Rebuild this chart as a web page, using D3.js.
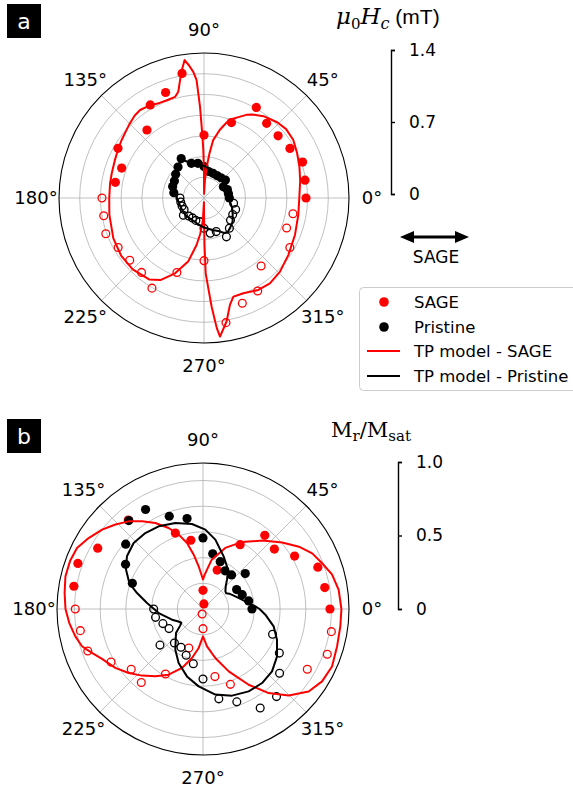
<!DOCTYPE html>
<html><head><meta charset="utf-8">
<script src="https://cdn.jsdelivr.net/npm/d3@7"></script>
<style>body{margin:0;background:#fff}svg{display:block}</style>
</head><body>
<script>
// ---------------- DATA ----------------
const angleTicks = [0,45,90,135,180,225,270,315];
const angleTickLabels = ["0°","45°","90°","135°","180°","225°","270°","315°"];

// Panel a : coercive field (mT)
const ringsA = [0.2,0.4,0.6,0.8,1.0,1.2];
const rmaxA = 1.4;
const thetaA_sageFill = [0,10,20,30,40,50,60,70,90,100,110,120,130,150,160,170];
const hcA_sageFill    = [0.985,0.99,1.013,0.958,0.934,0.941,1.01,0.775,0.608,1.221,1.084,1.038,0.857,0.959,0.846,0.869];
const thetaA_sageOpen = [180,190,200,210,220,230,240,250,270,280,290,300,310,330,340,350];
const hcA_sageOpen    = [0.985,0.983,1.009,0.957,0.936,0.938,1.005,0.766,0.605,1.222,1.082,1.037,0.858,0.957,0.849,0.872];
const thetaA_prisFill = [0,10,20,30,40,50,60,70,80,90,100,110,120,130,140,150,160,170];
const hcA_prisFill    = [0.245,0.24,0.24,0.216,0.27,0.255,0.25,0.254,0.26,0.303,0.34,0.356,0.44,0.39,0.357,0.33,0.322,0.296];
const thetaA_prisOpen = [180,190,200,210,220,230,240,250,260,270,280,290,300,310,320,330,340,350];
const hcA_prisOpen    = [0.232,0.228,0.225,0.222,0.26,0.228,0.222,0.23,0.232,0.293,0.345,0.345,0.433,0.381,0.334,0.32,0.325,0.29];
const thetaA_modelSage = [0,10,18,26,33,40,46,54,60,63,66,72,75,77,81,83,85,87,89,
  90,90.8,91.5,92.5,93.6,94.8,96.5,98,99.9,101.5,103.6,106,110,115,120,126,130,135,140,145,150,157,165,171,180,
  190,204,215,225,236,242,249,256,261,264,267,269.3,
  270.2,270.6,271.3,274,275.6,276.6,280.4,283.7,286.6,292.4,300.6,307.7,315.9,325.9,337.9,349.8,360];
const hcA_modelSage = [0.92,0.943,0.969,0.999,1.028,1.035,1.017,0.977,0.93,0.901,0.86,0.794,0.72,0.674,0.566,0.434,0.303,0.17,0.04,
  0.24,0.46,0.61,0.88,1.14,1.22,1.29,1.345,1.25,1.16,1.056,1.015,1.01,1.013,1.035,1.05,1.04,1.015,0.99,0.972,0.955,0.935,0.922,0.918,0.915,
  0.928,0.958,0.975,0.974,0.948,0.898,0.779,0.633,0.459,0.35,0.22,0.04,
  0.2,0.45,0.73,1.05,1.26,1.347,1.21,1.06,0.994,0.995,1.031,1.041,1.022,0.983,0.948,0.925,0.92];
const thetaA_modelPris = [0,15,30,40,50,60,70,80,90,100,110,118,122,128,135,145,155,165,175,180,195,210,225,240,255,270,285,295,300,305,312,320,330,340,350,360];
const hcA_modelPris = [0.245,0.24,0.245,0.26,0.255,0.255,0.265,0.285,0.31,0.335,0.36,0.41,0.43,0.40,0.37,0.34,0.315,0.29,0.265,0.26,0.245,0.24,0.245,0.24,0.255,0.285,0.32,0.355,0.39,0.40,0.38,0.36,0.32,0.29,0.26,0.245];
const barTicksA = [0,0.7,1.4];
const barLabelsA = ["0","0.7","1.4"];

// Panel b : remanence ratio Mr/Msat
const ringsB = [0.2,0.4,0.6,0.8,1.0];
const rmaxB = 1.136;
const thetaB_sageFill = [0,10,20,30,40,50,60,70,80,90,100,110,130,150,160,170];
const mrB_sageFill    = [0.988,0.962,0.951,0.823,0.725,0.748,0.578,0.322,0.04,0.145,0.543,0.629,0.904,0.946,1.036,1.02];
const thetaB_sageOpen = [180,190,200,210,220,230,240,250,260,270,280,290,330,340,350];
const mrB_sageOpen    = [0.994,0.969,0.954,0.826,0.729,0.747,0.584,0.323,0.039,0.153,0.534,0.624,0.937,1.029,1.014];
const thetaB_prisFill = [0,10,20,30,40,50,60,70,80,90,100,110,120,130,140,150,160];
const mrB_prisFill    = [0.381,0.361,0.325,0.302,0.429,0.346,0.343,0.392,0.436,0.553,0.715,0.768,0.894,0.898,0.785,0.696,0.585];
const thetaB_prisOpen = [180,190,200,210,220,230,240,250,260,270,280,290,300,310,320,330,340];
const mrB_prisOpen    = [0.384,0.375,0.332,0.305,0.437,0.346,0.343,0.383,0.433,0.545,0.71,0.769,0.89,0.89,0.778,0.686,0.576];
const thetaB_modelSage = [0,8,15,21,27,33,40,49,60,70,80,87,90,
  95.8,99.7,103.6,108.1,113,119,124.8,130.3,136,141.8,148.2,154.2,160,166.7,173.4,180,
  186,192.1,197.1,199.3,201.6,206.3,213.9,220.7,227.5,234.7,242.4,250.4,257.3,263.7,270,
  276.1,284.1,292.4,301.1,308,314.7,322,328.7,336,344.4,352.8,360];
const mrB_modelSage = [1.077,1.066,1.039,0.993,0.954,0.89,0.804,0.705,0.601,0.506,0.39,0.27,0.23,
  0.334,0.429,0.528,0.609,0.685,0.765,0.831,0.894,0.947,0.999,1.047,1.089,1.10,1.10,1.084,1.07,
  1.046,1.016,0.985,0.957,0.929,0.877,0.822,0.763,0.703,0.642,0.577,0.487,0.391,0.305,0.213,
  0.292,0.393,0.525,0.688,0.83,0.948,1.043,1.084,1.099,1.083,1.077,1.077];
const thetaB_modelPris = [0,2.9,13.5,21.4,30.2,34,38.3,45,50.7,57.6,68.6,79.9,88.3,97.4,107.8,118.2,127.2,136.4,145.3,152.9,
  160.6,166.4,173.9,185.2,199,207,212.4,216,221.6,235.8,245.7,256.6,266.8,278.2,288.5,299,308.6,317.9,327.4,337.5,346.2,354.8,360];
const mrB_modelPris = [0.44,0.408,0.312,0.27,0.237,0.218,0.222,0.25,0.295,0.363,0.44,0.548,0.618,0.667,0.703,0.73,0.742,0.745,0.72,0.673,
  0.608,0.528,0.438,0.346,0.255,0.215,0.2,0.22,0.281,0.383,0.461,0.539,0.603,0.673,0.711,0.733,0.737,0.724,0.684,0.623,0.566,0.487,0.44];
const barTicksB = [0,0.5,1.0];
const barLabelsB = ["0","0.5","1.0"];

const legendLabels = ["SAGE","Pristine","TP model - SAGE","TP model - Pristine"];

// ---------------- DRAW ----------------
const W = 573, H = 787;
const RED = "#ff0000", BLACK = "#000000";
const svg = d3.select("body").append("svg").attr("width", W).attr("height", H);
svg.append("rect").attr("width", W).attr("height", H).attr("fill", "#fff");

const rad = t => (90 - t) * Math.PI / 180;   // math angle (deg, ccw from east) -> d3 radial angle
const zip = (a, b) => a.map((t, i) => [t, b[i]]);

function panel(cfg) {
  const g = svg.append("g").attr("transform", `translate(${cfg.cx},${cfg.cy})`);
  const r = d3.scaleLinear().domain([0, cfg.rmax]).range([0, cfg.R]);
  const grid = g.append("g");
  grid.selectAll("circle").data(cfg.rings).join("circle")
    .attr("r", d => r(d)).attr("fill", "none").attr("stroke", "#b0b0b0").attr("stroke-width", 0.8);
  grid.selectAll("line").data(angleTicks).join("line")
    .attr("x1", 0).attr("y1", 0)
    .attr("x2", d => d3.pointRadial(rad(d), r(cfg.rmax))[0])
    .attr("y2", d => d3.pointRadial(rad(d), r(cfg.rmax))[1])
    .attr("stroke", "#b0b0b0").attr("stroke-width", 0.8);
  g.append("circle").attr("r", r(cfg.rmax)).attr("fill", "none").attr("stroke", "#000").attr("stroke-width", 1.1);
  // angular labels
  g.append("g").selectAll("text").data(angleTicks).join("text")
    .attr("x", d => d3.pointRadial(rad(d), r(cfg.rmax) + 23)[0])
    .attr("y", d => d3.pointRadial(rad(d), r(cfg.rmax) + 23)[1])
    .attr("text-anchor", "middle").attr("dy", "0.36em")
    .attr("font-family", "DejaVu Sans").attr("font-size", 18).attr("fill", "#000")
    .text((d, i) => angleTickLabels[i]);

  const pts = g.append("g");
  function scatter(th, v, color, filled) {
    pts.append("g").selectAll("circle").data(zip(th, v)).join("circle")
      .attr("cx", d => d3.pointRadial(rad(d[0]), r(d[1]))[0])
      .attr("cy", d => d3.pointRadial(rad(d[0]), r(d[1]))[1])
      .attr("r", filled ? 4.6 : 3.9)
      .attr("fill", filled ? color : "none")
      .attr("stroke", color).attr("stroke-width", filled ? 0 : 1.3);
  }
  scatter(cfg.sF[0], cfg.sF[1], RED, true);
  scatter(cfg.sO[0], cfg.sO[1], RED, false);
  scatter(cfg.pF[0], cfg.pF[1], BLACK, true);
  scatter(cfg.pO[0], cfg.pO[1], BLACK, false);

  const line = d3.lineRadial().angle(d => rad(d[0])).radius(d => r(d[1]));
  g.append("path").attr("d", line(zip(cfg.mS[0], cfg.mS[1]))).attr("fill", "none")
    .attr("stroke", RED).attr("stroke-width", 2).attr("stroke-linejoin", "round");
  g.append("path").attr("d", line(zip(cfg.mP[0], cfg.mP[1]))).attr("fill", "none")
    .attr("stroke", BLACK).attr("stroke-width", 2).attr("stroke-linejoin", "round");
}

panel({cx: 204, cy: 198, R: 145, rmax: rmaxA, rings: ringsA,
  sF: [thetaA_sageFill, hcA_sageFill], sO: [thetaA_sageOpen, hcA_sageOpen],
  pF: [thetaA_prisFill, hcA_prisFill], pO: [thetaA_prisOpen, hcA_prisOpen],
  mS: [thetaA_modelSage, hcA_modelSage], mP: [thetaA_modelPris, hcA_modelPris]});

panel({cx: 203, cy: 609, R: 146, rmax: rmaxB, rings: ringsB,
  sF: [thetaB_sageFill, mrB_sageFill], sO: [thetaB_sageOpen, mrB_sageOpen],
  pF: [thetaB_prisFill, mrB_prisFill], pO: [thetaB_prisOpen, mrB_prisOpen],
  mS: [thetaB_modelSage, mrB_modelSage], mP: [thetaB_modelPris, mrB_modelPris]});

// scale bars
function bar(x, y0, y1, max, ticks, labels) {
  const y = d3.scaleLinear().domain([0, max]).range([y0, y1]);
  const ax = d3.axisRight(y).tickValues(ticks).tickFormat((d, i) => labels[i]).tickSize(4).tickSizeOuter(4).tickPadding(14);
  const g = svg.append("g").attr("transform", `translate(${x},0)`).call(ax);
  g.select(".domain").attr("stroke-width", 1.4);
  g.selectAll(".tick line").attr("stroke-width", 1.4);
  g.selectAll("text").attr("font-family", "DejaVu Sans").attr("font-size", 17).attr("fill", "#000");
}
bar(391, 194, 50, 1.4, barTicksA, barLabelsA);
bar(398, 609, 462, 1.0, barTicksB, barLabelsB);

// axis titles
const tA = svg.append("text").attr("x", 336).attr("y", 24).attr("fill", "#000")
  .attr("font-family", "DejaVu Serif").attr("font-style", "italic").attr("font-size", 23);
tA.append("tspan").text("μ");
tA.append("tspan").attr("font-size", 15).attr("font-style", "normal").attr("dy", 5).text("0");
tA.append("tspan").attr("dy", -5).text("H");
tA.append("tspan").attr("font-size", 16).attr("dy", 5).text("c");
tA.append("tspan").attr("dy", -5).attr("font-family", "Liberation Sans").attr("font-style", "normal").attr("font-size", 21).text(" (mT)");

const tB = svg.append("text").attr("x", 331).attr("y", 437).attr("fill", "#000")
  .attr("font-family", "DejaVu Serif").attr("font-size", 21);
tB.append("tspan").text("M");
tB.append("tspan").attr("font-size", 15).attr("dy", 4).text("r");
tB.append("tspan").attr("dy", -4).text("/M");
tB.append("tspan").attr("font-size", 15).attr("dy", 4).text("sat");

// SAGE arrow
const ar = svg.append("g");
ar.append("line").attr("x1", 410).attr("x2", 459).attr("y1", 237).attr("y2", 237).attr("stroke", "#000").attr("stroke-width", 3);
ar.append("path").attr("d", "M400,237 L414,231 L414,243 Z").attr("fill", "#000");
ar.append("path").attr("d", "M469,237 L455,231 L455,243 Z").attr("fill", "#000");
ar.append("text").attr("x", 436).attr("y", 263).attr("text-anchor", "middle")
  .attr("font-family", "DejaVu Sans").attr("font-size", 17).text("SAGE");

// panel letters
[["a", 4], ["b", 419]].forEach(([s, y]) => {
  svg.append("rect").attr("x", 7).attr("y", y).attr("width", 34).attr("height", 34).attr("fill", "#000");
  svg.append("text").attr("x", 24).attr("y", y + 17).attr("dy", "0.36em").attr("text-anchor", "middle")
    .attr("font-family", "DejaVu Sans").attr("font-size", 22).attr("fill", "#fff").text(s);
});

// legend
const lg = svg.append("g");
lg.append("rect").attr("x", 359.5).attr("y", 287.5).attr("width", 230).attr("height", 103).attr("rx", 4)
  .attr("fill", "#fff").attr("stroke", "#cccccc").attr("stroke-width", 1);
const rowsY = [302, 327, 351, 376];
lg.append("circle").attr("cx", 384).attr("cy", rowsY[0]).attr("r", 4.8).attr("fill", RED);
lg.append("circle").attr("cx", 384).attr("cy", rowsY[1]).attr("r", 4.8).attr("fill", BLACK);
lg.append("line").attr("x1", 367).attr("x2", 400).attr("y1", rowsY[2]).attr("y2", rowsY[2]).attr("stroke", RED).attr("stroke-width", 2);
lg.append("line").attr("x1", 367).attr("x2", 400).attr("y1", rowsY[3]).attr("y2", rowsY[3]).attr("stroke", BLACK).attr("stroke-width", 2);
lg.selectAll("text.l").data(legendLabels).join("text").attr("class", "l")
  .attr("x", 414).attr("y", (d, i) => rowsY[i]).attr("dy", "0.36em")
  .attr("font-family", "DejaVu Sans").attr("font-size", 16.5).attr("fill", "#000").text(d => d);
</script>
</body></html>
